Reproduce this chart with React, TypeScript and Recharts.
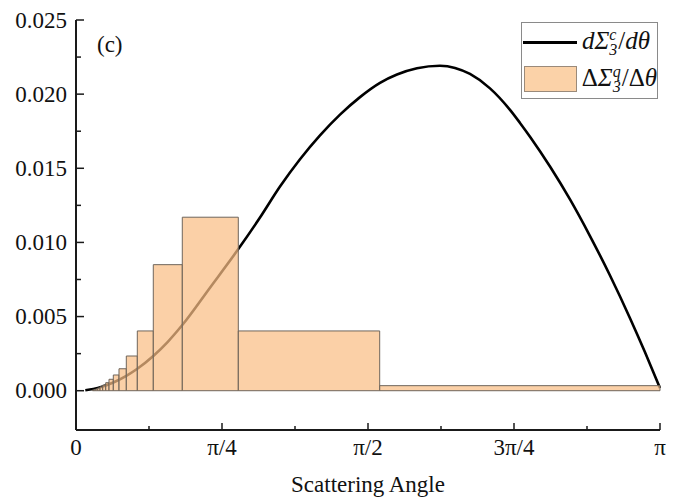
import React from "react";
import {
  ComposedChart,
  Line,
  XAxis,
  YAxis,
  ReferenceArea,
} from "recharts";

// classical curve dΣ3c/dθ
const CURVE_THETA = [
  0.05, 0.093, 0.1436, 0.2006, 0.2706, 0.3298, 0.4158, 0.4938, 0.5718, 0.7208,
  0.8731, 0.9898, 1.0974, 1.205, 1.3126, 1.4202, 1.5278, 1.6354, 1.7268,
  1.8344, 1.9581, 2.0388, 2.1195, 2.2271, 2.3347, 2.3885, 2.4423, 2.5499,
  2.6575, 2.7651, 2.8727, 2.9803, 3.061, 3.1416,
];
const CURVE_VALUE = [
  0.00003, 0.00011, 0.00028, 0.00055, 0.001, 0.00148, 0.00234, 0.0033, 0.00443,
  0.00695, 0.00955, 0.01168, 0.01377, 0.01561, 0.01722, 0.01862, 0.0198,
  0.02076, 0.02132, 0.02174, 0.02191, 0.02177, 0.02136, 0.02039, 0.01894,
  0.01806, 0.01713, 0.01512, 0.0129, 0.01043, 0.00777, 0.00489, 0.00259,
  0.00018,
];

// quantum histogram ΔΣ3q/Δθ: bin edges and heights
const BIN_EDGES = [
  0.0888, 0.0968, 0.106, 0.1167, 0.1291, 0.1436, 0.1598, 0.1775, 0.2007,
  0.2313, 0.2706, 0.3298, 0.4158, 0.5718, 0.8731, 1.6337, 3.1416,
];
const BIN_HEIGHTS = [
  0.00005, 0.00008, 0.00012, 0.00018, 0.00026, 0.00038, 0.00054, 0.00077,
  0.00106, 0.00148, 0.00234, 0.00403, 0.0085, 0.0117, 0.00403, 0.00034,
];

const X_TICKS = [0, 0.3927, 0.7854, 1.1781, 1.5708, 1.9635, 2.3562, 2.7489, 3.1416];
const X_LABELS = ["0", "", "π/4", "", "π/2", "", "3π/4", "", "π"];
const Y_TICKS = [0, 0.0025, 0.005, 0.0075, 0.01, 0.0125, 0.015, 0.0175, 0.02, 0.0225, 0.025];

const FONT = "'Liberation Serif', 'Times New Roman', serif";
const AXIS = "#1a1a1a";
const BAR_FILL = "#F9BE85";
const BAR_STROKE = "#6f655b";

const curveData = CURVE_THETA.map((t, i) => ({ theta: t, value: CURVE_VALUE[i] }));

const XTick = (props: any) => {
  const { x, y, payload } = props;
  const idx = X_TICKS.findIndex((t) => Math.abs(t - payload.value) < 1e-3);
  const label = idx >= 0 ? X_LABELS[idx] : "";
  const major = label !== "";
  return (
    <g>
      <line x1={x} x2={x} y1={y} y2={y - (major ? 7 : 4)} stroke={AXIS} strokeWidth={1.5} />
      {major && (
        <text x={x} y={y + 25} textAnchor="middle" fontFamily={FONT} fontSize={23} fill="#111">
          {label}
        </text>
      )}
    </g>
  );
};

const YTick = (props: any) => {
  const { x, y, payload } = props;
  const v = payload.value;
  const major = Math.abs(Math.round(v / 0.005) * 0.005 - v) < 1e-7;
  return (
    <g>
      <line x1={x} x2={x + (major ? 8 : 5)} y1={y} y2={y} stroke={AXIS} strokeWidth={1.5} />
      {major && (
        <text x={x - 9} y={y + 7.5} textAnchor="end" fontFamily={FONT} fontSize={23} fill="#111">
          {v.toFixed(3)}
        </text>
      )}
    </g>
  );
};

// stacked superscript over subscript, as on Σ
const Script = ({ sup, sub }: { sup: string; sub: string }) => (
  <span
    style={{
      display: "inline-flex",
      flexDirection: "column",
      fontSize: 16,
      lineHeight: "15px",
      verticalAlign: "9px",
      fontStyle: "italic",
      margin: "0 1px 0 0",
    }}
  >
    <span>{sup}</span>
    <span>{sub}</span>
  </span>
);

export default function App() {
  return (
    <div style={{ position: "absolute", left: 0, top: 0, width: 691, height: 500, background: "#fff" }}>
      <ComposedChart
        width={691}
        height={500}
        data={curveData}
        margin={{ top: 20, right: 31, bottom: 0, left: 0 }}
      >
        <XAxis
          dataKey="theta"
          type="number"
          domain={[0, Math.PI]}
          ticks={X_TICKS}
          interval={0}
          height={70}
          tickSize={0}
          tickMargin={0}
          tickLine={false}
          tick={<XTick />}
          axisLine={{ stroke: AXIS, strokeWidth: 2 }}
          label={{
            value: "Scattering Angle",
            position: "insideBottom",
            offset: 8,
            fontSize: 23,
            fontFamily: FONT,
            fill: "#111",
          }}
        />
        <XAxis
          xAxisId="top"
          orientation="top"
          type="number"
          dataKey="theta"
          domain={[0, Math.PI]}
          height={0}
          tick={false}
          tickLine={false}
          axisLine={{ stroke: AXIS, strokeWidth: 2 }}
        />
        <YAxis
          type="number"
          domain={[-0.00265, 0.025]}
          ticks={Y_TICKS}
          interval={0}
          width={76}
          tickSize={0}
          tickMargin={0}
          tickLine={false}
          tick={<YTick />}
          axisLine={{ stroke: AXIS, strokeWidth: 2 }}
        />
        <YAxis
          yAxisId="right"
          orientation="right"
          type="number"
          domain={[-0.00265, 0.025]}
          width={0}
          tick={false}
          tickLine={false}
          axisLine={{ stroke: AXIS, strokeWidth: 2 }}
        />
        <Line
          dataKey="value"
          type="monotone"
          stroke="#000"
          strokeWidth={2.6}
          dot={false}
          activeDot={false}
          isAnimationActive={false}
          zIndex={350}
        />
        {BIN_HEIGHTS.map((h, i) => (
          <ReferenceArea
            key={i}
            x1={BIN_EDGES[i]}
            x2={BIN_EDGES[i + 1]}
            y1={0}
            y2={h}
            fill={BAR_FILL}
            fillOpacity={0.72}
            stroke={BAR_STROKE}
            strokeWidth={1}
            zIndex={450}
          />
        ))}
      </ComposedChart>

      <div
        style={{
          position: "absolute",
          left: 97,
          top: 32,
          fontFamily: FONT,
          fontSize: 23,
          color: "#111",
        }}
      >
        (c)
      </div>

      <div
        style={{
          position: "absolute",
          left: 521,
          top: 22,
          width: 137,
          height: 77,
          boxSizing: "border-box",
          border: "1px solid #8a8a8a",
          background: "#fff",
          fontFamily: FONT,
          fontSize: 25,
          color: "#111",
        }}
      >
        <div style={{ display: "flex", alignItems: "center", height: 38 }}>
          <div style={{ width: 54, height: 3, background: "#000", marginLeft: 1, marginRight: 5 }} />
          <span style={{ whiteSpace: "nowrap" }}>
            <i>d</i>
            <i>Σ</i>
            <Script sup="c" sub="3" />
            <span>/</span>
            <i>dθ</i>
          </span>
        </div>
        <div style={{ display: "flex", alignItems: "center", height: 36 }}>
          <div
            style={{
              width: 52,
              height: 24,
              background: "#FBD2A8",
              border: "1px solid #9a8a7a",
              marginLeft: 2,
              marginRight: 5,
            }}
          />
          <span style={{ whiteSpace: "nowrap" }}>
            <span>Δ</span>
            <i>Σ</i>
            <Script sup="q" sub="3" />
            <span>/Δ</span>
            <i>θ</i>
          </span>
        </div>
      </div>
    </div>
  );
}
